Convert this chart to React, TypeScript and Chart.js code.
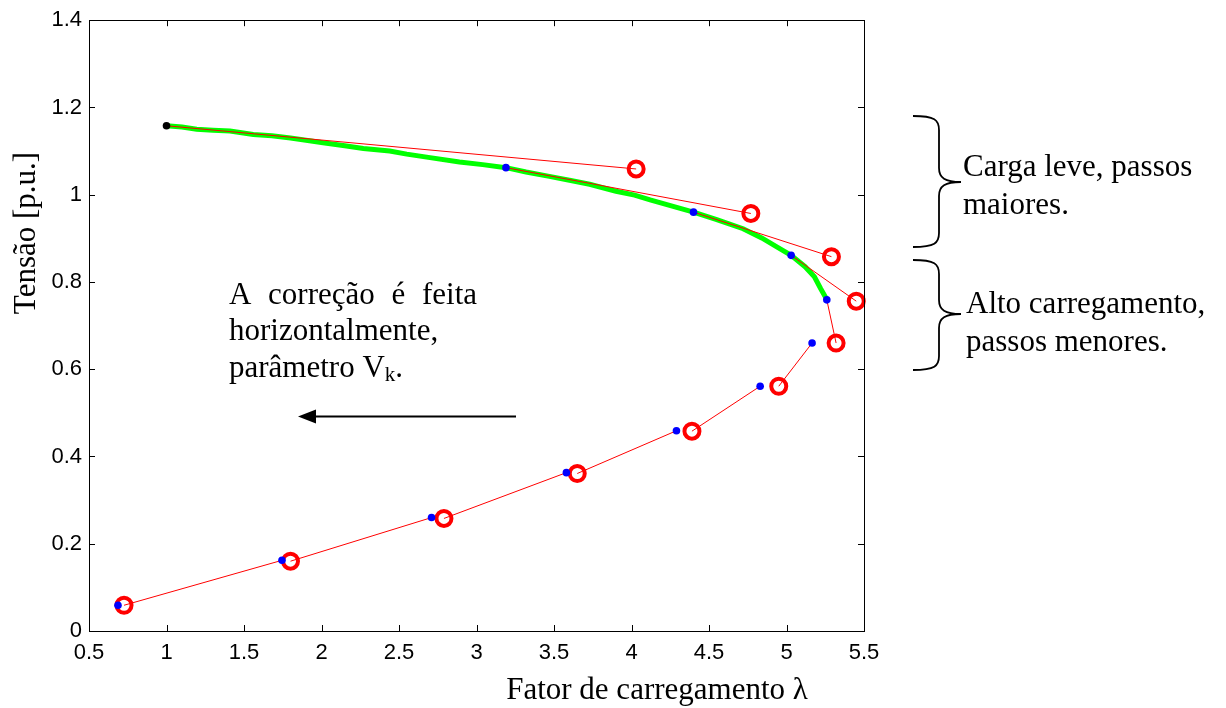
import React, { useEffect, useRef } from 'react';
import { Chart, registerables } from 'chart.js';

Chart.register(...registerables);

// Starting (base case) point
const startLambda = [1.0];
const startV = [1.158];

// Predicted points (red circles)
const predLambda = [4.03, 4.77, 5.29, 5.45, 5.32, 4.95, 4.39, 3.65, 2.79, 1.80, 0.726];
const predV = [1.059, 0.957, 0.858, 0.756, 0.660, 0.561, 0.458, 0.361, 0.258, 0.160, 0.059];

// Corrected points (blue dots)
const corrLambda = [3.19, 4.40, 5.03, 5.26, 5.165, 4.83, 4.29, 3.58, 2.71, 1.745, 0.687];
const corrV = [1.062, 0.960, 0.861, 0.759, 0.660, 0.561, 0.459, 0.363, 0.260, 0.162, 0.059];

// Exact PV curve (green)
const exactLambda = [1.00, 1.10, 1.195, 1.30, 1.41, 1.56, 1.68, 1.80, 1.90, 2.01, 2.15, 2.27, 2.44, 2.55, 2.70, 2.89, 3.04, 3.19, 3.32, 3.47, 3.60, 3.73, 3.90, 4.02, 4.12, 4.28, 4.40, 4.55, 4.72, 4.84, 4.94, 5.03, 5.12, 5.18, 5.22, 5.26];
const exactV = [1.158, 1.155, 1.150, 1.148, 1.146, 1.138, 1.135, 1.130, 1.125, 1.119, 1.112, 1.106, 1.100, 1.093, 1.085, 1.075, 1.069, 1.062, 1.052, 1.042, 1.033, 1.024, 1.008, 0.999, 0.988, 0.972, 0.960, 0.943, 0.922, 0.901, 0.880, 0.861, 0.835, 0.812, 0.785, 0.760];

// Axis ticks
const xTicks = [0.5, 1, 1.5, 2, 2.5, 3, 3.5, 4, 4.5, 5, 5.5];
const yTicks = [0, 0.2, 0.4, 0.6, 0.8, 1, 1.2, 1.4];
const xTickLabels = ['0.5', '1', '1.5', '2', '2.5', '3', '3.5', '4', '4.5', '5', '5.5'];
const yTickLabels = ['0', '0.2', '0.4', '0.6', '0.8', '1', '1.2', '1.4'];

// Texts
const xTitle = 'Fator de carregamento λ';
const yTitle = 'Tensão [p.u.]';
const noteLeftLine1 = ['A', 'correção', 'é', 'feita'];
const noteLeftLine2 = 'horizontalmente,';
const noteLeftLine3 = 'parâmetro V';
const noteLeftSub = 'k';
const noteRight1 = ['Carga leve, passos', 'maiores.'];
const noteRight2 = ['Alto carregamento,', 'passos menores.'];

const SERIF = "'Liberation Serif', 'Times New Roman', serif";
const SANS = "'Liberation Sans', Arial, Helvetica, sans-serif";

function drawBrace(ctx: CanvasRenderingContext2D, xL: number, xM: number, xT: number, yTop: number, yTip: number, yBot: number) {
  ctx.beginPath();
  ctx.moveTo(xL, yTop);
  ctx.bezierCurveTo(xM - 4, yTop, xM, yTop + 4, xM, yTop + 14);
  ctx.lineTo(xM, yTip - 14);
  ctx.bezierCurveTo(xM, yTip - 4, xM + 6, yTip, xT, yTip);
  ctx.bezierCurveTo(xM + 6, yTip, xM, yTip + 4, xM, yTip + 14);
  ctx.lineTo(xM, yBot - 14);
  ctx.bezierCurveTo(xM, yBot - 4, xM - 4, yBot, xL, yBot);
  ctx.stroke();
}

const decorPlugin = {
  id: 'decor',
  afterDraw(chart: any) {
    const ctx: CanvasRenderingContext2D = chart.ctx;
    const { left, right, top, bottom } = chart.chartArea;
    const xs = chart.scales.x;
    const ys = chart.scales.y;
    ctx.save();
    // box
    ctx.strokeStyle = '#000';
    ctx.lineWidth = 1;
    ctx.strokeRect(Math.round(left) + 0.5, Math.round(top) + 0.5, Math.round(right - left), Math.round(bottom - top));
    // inward ticks
    const tl = 6;
    ctx.beginPath();
    xTicks.forEach((v) => {
      const p = Math.round(xs.getPixelForValue(v)) + 0.5;
      ctx.moveTo(p, bottom);
      ctx.lineTo(p, bottom - tl);
      ctx.moveTo(p, top);
      ctx.lineTo(p, top + tl);
    });
    yTicks.forEach((v) => {
      const p = Math.round(ys.getPixelForValue(v)) + 0.5;
      ctx.moveTo(left, p);
      ctx.lineTo(left + tl, p);
      ctx.moveTo(right, p);
      ctx.lineTo(right - tl, p);
    });
    ctx.stroke();

    ctx.fillStyle = '#000';
    // axis titles
    ctx.font = `31px ${SERIF}`;
    ctx.textAlign = 'center';
    ctx.textBaseline = 'alphabetic';
    ctx.fillText(xTitle, 657, 699);
    ctx.save();
    ctx.translate(35, 233);
    ctx.rotate(-Math.PI / 2);
    ctx.fillText(yTitle, 0, 0);
    ctx.restore();

    // left note (justified first line)
    ctx.textAlign = 'left';
    ctx.font = `31px ${SERIF}`;
    const x0 = 229;
    const x1 = 477;
    const widths = noteLeftLine1.map((w) => ctx.measureText(w).width);
    const total = widths.reduce((a, b) => a + b, 0);
    const gap = (x1 - x0 - total) / (noteLeftLine1.length - 1);
    let cx = x0;
    noteLeftLine1.forEach((w, i) => {
      ctx.fillText(w, cx, 304);
      cx += widths[i] + gap;
    });
    ctx.fillText(noteLeftLine2, x0, 340);
    ctx.fillText(noteLeftLine3, x0, 377);
    let wx = x0 + ctx.measureText(noteLeftLine3).width;
    ctx.font = `21px ${SERIF}`;
    ctx.fillText(noteLeftSub, wx, 381);
    wx += ctx.measureText(noteLeftSub).width;
    ctx.font = `31px ${SERIF}`;
    ctx.fillText('.', wx, 377);

    // arrow
    ctx.lineWidth = 2;
    ctx.beginPath();
    ctx.moveTo(516, 416.5);
    ctx.lineTo(312, 416.5);
    ctx.stroke();
    ctx.beginPath();
    ctx.moveTo(298, 416.5);
    ctx.lineTo(316, 409.5);
    ctx.lineTo(316, 423.5);
    ctx.closePath();
    ctx.fill();

    // right notes
    ctx.font = `31px ${SERIF}`;
    ctx.fillText(noteRight1[0], 963, 176);
    ctx.fillText(noteRight1[1], 963, 214);
    ctx.fillText(noteRight2[0], 966, 313);
    ctx.fillText(noteRight2[1], 966, 351);

    // braces
    ctx.lineWidth = 1.8;
    drawBrace(ctx, 913, 939, 961, 116, 182, 247);
    drawBrace(ctx, 913, 939, 961, 260, 314, 370);

    ctx.restore();
  },
};

export default function App() {
  const ref = useRef<HTMLCanvasElement | null>(null);
  useEffect(() => {
    if (!ref.current) return;
    const exactData = exactLambda.map((x, i) => ({ x, y: exactV[i] }));
    const segDatasets = predLambda.map((px, i) => {
      const sx = i === 0 ? startLambda[0] : corrLambda[i - 1];
      const sy = i === 0 ? startV[0] : corrV[i - 1];
      return {
        label: 'seg' + i,
        data: [{ x: sx, y: sy }, { x: px, y: predV[i] }],
        showLine: true,
        borderColor: '#ff0000',
        borderWidth: 1,
        pointRadius: 0,
        order: 4,
      };
    });
    const chart = new Chart(ref.current, {
      type: 'scatter',
      data: {
        datasets: [
          {
            label: 'exact',
            data: exactData,
            showLine: true,
            borderColor: '#00ff00',
            borderWidth: 5,
            pointRadius: 0,
            order: 5,
          } as any,
          ...segDatasets,
          {
            label: 'pred',
            data: predLambda.map((x, i) => ({ x, y: predV[i] })),
            showLine: false,
            pointRadius: 7.5,
            pointBorderWidth: 4,
            pointBorderColor: '#ff0000',
            pointBackgroundColor: 'rgba(0,0,0,0)',
            order: 3,
            clip: 14,
          },
          {
            label: 'corr',
            data: corrLambda.map((x, i) => ({ x, y: corrV[i] })),
            showLine: false,
            pointRadius: 3.8,
            pointBorderWidth: 0,
            pointBackgroundColor: '#0000ff',
            order: 2,
          },
          {
            label: 'start',
            data: startLambda.map((x, i) => ({ x, y: startV[i] })),
            showLine: false,
            pointRadius: 3.8,
            pointBorderWidth: 0,
            pointBackgroundColor: '#000000',
            order: 1,
          },
        ],
      },
      options: {
        animation: false,
        responsive: true,
        maintainAspectRatio: false,
        layout: { padding: { left: 0, right: 362, top: 18, bottom: 0 } },
        plugins: { legend: { display: false }, tooltip: { enabled: false } },
        scales: {
          x: {
            type: 'linear',
            min: 0.5,
            max: 5.5,
            afterFit: (s: any) => { s.height = 77; },
            afterBuildTicks: (s: any) => { s.ticks = xTicks.map((v) => ({ value: v })); },
            grid: { display: false, drawTicks: false },
            border: { display: false },
            ticks: {
              padding: 9,
              color: '#000',
              font: { family: SANS, size: 22 },
              maxRotation: 0,
              autoSkip: false,
              callback: (v: any) => { const i = xTicks.findIndex((t) => Math.abs(t - v) < 1e-6); return i >= 0 ? xTickLabels[i] : ''; },
            },
          },
          y: {
            type: 'linear',
            min: 0,
            max: 1.4,
            afterFit: (s: any) => { s.width = 89; },
            afterBuildTicks: (s: any) => { s.ticks = yTicks.map((v) => ({ value: v })); },
            grid: { display: false, drawTicks: false },
            border: { display: false },
            ticks: {
              padding: 7,
              color: '#000',
              font: { family: SANS, size: 22 },
              autoSkip: false,
              callback: (v: any) => { const i = yTicks.findIndex((t) => Math.abs(t - v) < 1e-6); return i >= 0 ? yTickLabels[i] : ''; },
            },
          },
        },
      } as any,
      plugins: [decorPlugin],
    });
    return () => chart.destroy();
  }, []);
  return (
    <div style={{ position: 'fixed', left: 0, top: 0, width: 1226, height: 708, background: '#fff' }}>
      <canvas ref={ref} />
    </div>
  );
}
